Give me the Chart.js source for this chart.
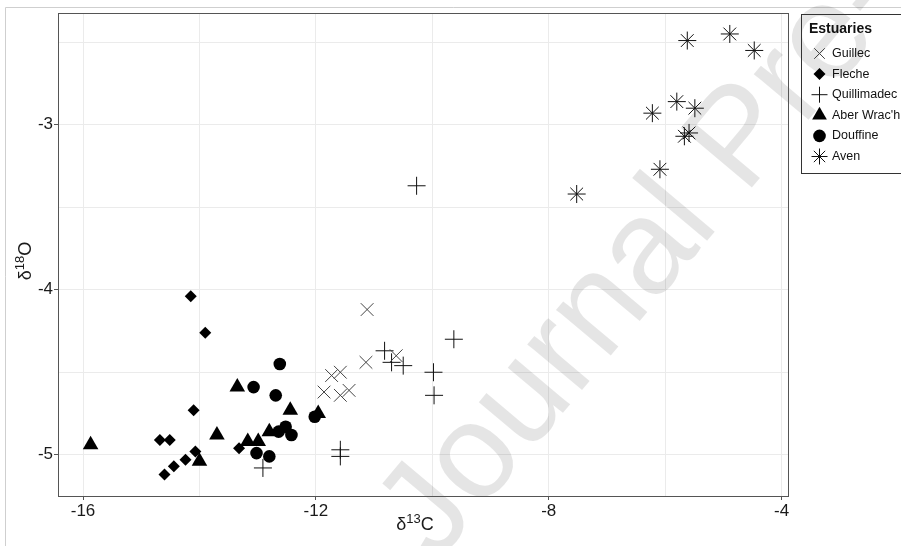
<!DOCTYPE html>
<html>
<head>
<meta charset="utf-8">
<script src="https://cdn.jsdelivr.net/npm/chart.js@4.4.1/dist/chart.umd.min.js"></script>
<style>
  html, body { margin: 0; padding: 0; background: #fff; }
  #wrap { width: 901px; height: 546px; position: relative; }
</style>
</head>
<body>
<div id="wrap"><canvas id="chart"></canvas></div>
<script>
// values (delta13C on x, delta18O on y)
const guillecX = [-11.12, -11.14, -11.73, -11.58, -11.86, -11.58, -11.43, -10.62];
const guillecY = [-4.12, -4.44, -4.52, -4.50, -4.62, -4.64, -4.61, -4.40];

const flecheX = [-14.15, -13.90, -14.10, -14.68, -14.51, -14.60, -14.44, -14.24, -14.07, -13.32];
const flecheY = [-4.04, -4.26, -4.73, -4.91, -4.91, -5.12, -5.07, -5.03, -4.98, -4.96];

const quillX = [-10.27, -10.82, -10.70, -10.50, -9.98, -9.97, -9.63, -11.58, -11.58, -12.91];
const quillY = [-3.37, -4.37, -4.44, -4.46, -4.50, -4.64, -4.30, -4.97, -5.01, -5.08];

const aberX = [-15.87, -14.00, -13.70, -13.35, -13.17, -12.99, -12.80, -12.44, -11.96];
const aberY = [-4.94, -5.04, -4.88, -4.59, -4.92, -4.92, -4.86, -4.73, -4.75];

const douffX = [-13.07, -12.62, -12.69, -13.02, -12.80, -12.52, -12.64, -12.42, -12.02];
const douffY = [-4.59, -4.45, -4.64, -4.99, -5.01, -4.83, -4.86, -4.88, -4.77];

const avenX = [-5.62, -4.89, -4.47, -5.80, -5.49, -6.22, -5.59, -5.67, -6.09, -7.52];
const avenY = [-2.49, -2.45, -2.55, -2.86, -2.90, -2.93, -3.05, -3.07, -3.27, -3.42];

const xTicks = [-16, -12, -8, -4];
const xGrid = [-16, -14, -12, -10, -8, -6, -4];
const yTicks = [-5, -4, -3];
const yGrid = [-5, -4.5, -4, -3.5, -3, -2.5];

const font = 'Liberation Sans, Arial, sans-serif';

function toPoints(xs, ys) {
  return xs.map((x, i) => ({ x: x, y: ys[i] }));
}

// draws a title like delta^13C, parts = [text, size, rise]
function drawRichText(ctx, parts, cx, cy, rot) {
  ctx.save();
  ctx.translate(cx, cy);
  ctx.rotate(rot);
  let total = 0;
  parts.forEach(p => {
    ctx.font = p[1] + 'px ' + font;
    total += ctx.measureText(p[0]).width;
  });
  let x = -total / 2;
  ctx.textBaseline = 'alphabetic';
  ctx.textAlign = 'left';
  ctx.fillStyle = '#1a1a1a';
  parts.forEach(p => {
    ctx.font = p[1] + 'px ' + font;
    ctx.fillText(p[0], x, -p[2]);
    x += ctx.measureText(p[0]).width;
  });
  ctx.restore();
}

const decor = {
  id: 'decor',
  beforeDraw(chart) {
    const ctx = chart.ctx;
    ctx.save();
    ctx.fillStyle = '#fff';
    ctx.fillRect(0, 0, chart.width, chart.height);
    // thin grey frame of the screenshot
    ctx.strokeStyle = '#cfcfcf';
    ctx.lineWidth = 1;
    ctx.beginPath();
    ctx.moveTo(5.5, chart.height);
    ctx.lineTo(5.5, 7.5);
    ctx.lineTo(chart.width, 7.5);
    ctx.stroke();
    ctx.restore();
  },
  beforeDatasetsDraw(chart) {
    // watermark
    const ctx = chart.ctx;
    ctx.save();
    ctx.translate(436, 564);
    ctx.rotate(-50 * Math.PI / 180);
    ctx.font = '135px ' + font;
    ctx.fillStyle = 'rgba(0,0,0,0.1)';
    ctx.textBaseline = 'alphabetic';
    ctx.fillText('Journal Pre-proof', 0, 0);
    ctx.restore();
  },
  afterDraw(chart) {
    const ctx = chart.ctx;
    const a = chart.chartArea;
    ctx.save();
    // panel border
    ctx.strokeStyle = '#555';
    ctx.lineWidth = 1;
    ctx.strokeRect(Math.round(a.left) + 0.5, Math.round(a.top) + 0.5,
      Math.round(a.right - a.left), Math.round(a.bottom - a.top));

    // axis titles
    drawRichText(ctx, [['δ', 18, 0], ['13', 13, 7], ['C', 18, 0]], 415, 530, 0);
    drawRichText(ctx, [['δ', 18, 0], ['18', 13, 7], ['O', 18, 0]], 31, 261, -Math.PI / 2);

    // legend
    ctx.strokeStyle = '#333';
    ctx.strokeRect(801.5, 14.5, 120, 159);
    ctx.fillStyle = '#111';
    ctx.font = 'bold 14px ' + font;
    ctx.textBaseline = 'middle';
    ctx.textAlign = 'left';
    ctx.fillText('Estuaries', 809, 29);
    ctx.font = '12.5px ' + font;
    chart.data.datasets.forEach((ds, i) => {
      const y = 53.5 + i * 20.6;
      ctx.fillStyle = ds.backgroundColor;
      ctx.strokeStyle = ds.borderColor;
      ctx.lineWidth = 1;
      Chart.helpers.drawPoint(ctx, {
        pointStyle: ds.pointStyle,
        radius: ds.legendRadius,
        rotation: 0,
        borderWidth: ds.pointBorderWidth
      }, 819.5, y);
      ctx.fillStyle = '#111';
      ctx.fillText(ds.label, 832, y);
    });
    ctx.restore();
  }
};

const ctx = document.getElementById('chart').getContext('2d');
new Chart(ctx, {
  type: 'scatter',
  data: {
    datasets: [
      { label: 'Guillec', data: toPoints(guillecX, guillecY), pointStyle: 'crossRot',
        pointRadius: 9, legendRadius: 7.5, borderColor: '#444', backgroundColor: '#444', pointBorderWidth: 1 },
      { label: 'Fleche', data: toPoints(flecheX, flecheY), pointStyle: 'rectRot',
        pointRadius: 6, legendRadius: 6, borderColor: '#000', backgroundColor: '#000', pointBorderWidth: 0 },
      { label: 'Quillimadec', data: toPoints(quillX, quillY), pointStyle: 'cross',
        pointRadius: 9, legendRadius: 8, borderColor: '#111', backgroundColor: '#111', pointBorderWidth: 1 },
      { label: "Aber Wrac'h", data: toPoints(aberX, aberY), pointStyle: 'triangle',
        pointRadius: 9, legendRadius: 8.5, borderColor: '#000', backgroundColor: '#000', pointBorderWidth: 0 },
      { label: 'Douffine', data: toPoints(douffX, douffY), pointStyle: 'circle',
        pointRadius: 6.3, legendRadius: 6.3, borderColor: '#000', backgroundColor: '#000', pointBorderWidth: 0 },
      { label: 'Aven', data: toPoints(avenX, avenY), pointStyle: 'star',
        pointRadius: 9, legendRadius: 8, borderColor: '#111', backgroundColor: '#111', pointBorderWidth: 1 }
    ]
  },
  options: {
    responsive: true,
    maintainAspectRatio: false,
    animation: false,
    events: [],
    layout: { padding: { top: 13, right: 113, left: 0, bottom: 0 } },
    plugins: {
      legend: { display: false },
      tooltip: { enabled: false }
    },
    scales: {
      x: {
        type: 'linear',
        min: -16.43,
        max: -3.89,
        afterFit: (scale) => { scale.height = 50; },
        afterBuildTicks: (scale) => { scale.ticks = xGrid.map(v => ({ value: v })); },
        border: { display: false },
        grid: {
          color: '#ebebeb',
          lineWidth: 1,
          tickLength: 4,
          tickColor: (c) => (c.tick && xTicks.includes(c.tick.value)) ? '#555' : 'rgba(0,0,0,0)'
        },
        ticks: {
          padding: 1,
          color: '#1a1a1a',
          font: { family: font, size: 17 },
          maxRotation: 0,
          autoSkip: false,
          callback: (v) => xTicks.includes(v) ? String(v) : ''
        }
      },
      y: {
        type: 'linear',
        min: -5.25,
        max: -2.323,
        afterFit: (scale) => { scale.width = 58; },
        afterBuildTicks: (scale) => { scale.ticks = yGrid.map(v => ({ value: v })); },
        border: { display: false },
        grid: {
          color: '#ebebeb',
          lineWidth: 1,
          tickLength: 4,
          tickColor: (c) => (c.tick && yTicks.includes(c.tick.value)) ? '#555' : 'rgba(0,0,0,0)'
        },
        ticks: {
          padding: 1,
          color: '#1a1a1a',
          font: { family: font, size: 17 },
          autoSkip: false,
          callback: (v) => yTicks.includes(v) ? String(v) : ''
        }
      }
    }
  },
  plugins: [decor]
});
</script>
</body>
</html>
